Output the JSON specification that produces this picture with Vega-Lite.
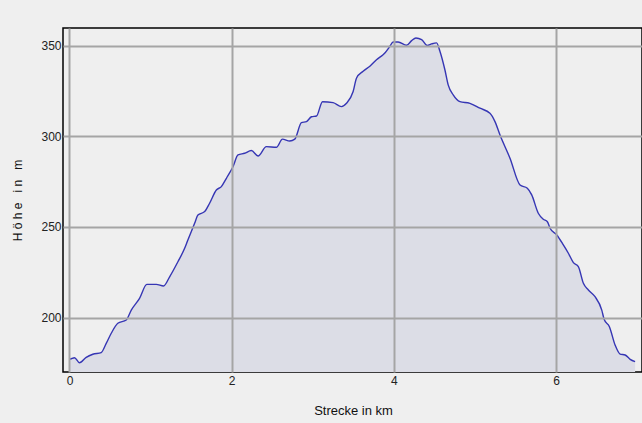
{
  "$schema": "https://vega.github.io/schema/vega-lite/v6.json",
  "autosize": {"type": "none"},
  "width": 579,
  "height": 344,
  "padding": {"left": 63, "top": 28, "right": 0, "bottom": 51},
  "background": "#efefef",
  "config": {
    "view": {"stroke": "#000000", "strokeWidth": 1.5, "fill": "#efefef"},
    "font": "Liberation Sans"
  },
  "data": {"values": [
    {"km": 0.0, "m": 177.0},
    {"km": 0.012, "m": 177.1},
    {"km": 0.062, "m": 177.8},
    {"km": 0.123, "m": 175.0},
    {"km": 0.206, "m": 178.0},
    {"km": 0.288, "m": 179.7},
    {"km": 0.391, "m": 180.6},
    {"km": 0.453, "m": 185.7},
    {"km": 0.515, "m": 191.3},
    {"km": 0.596, "m": 196.8},
    {"km": 0.700, "m": 198.6},
    {"km": 0.762, "m": 204.1},
    {"km": 0.864, "m": 210.6},
    {"km": 0.954, "m": 218.3},
    {"km": 1.070, "m": 218.3},
    {"km": 1.160, "m": 217.4},
    {"km": 1.235, "m": 222.5},
    {"km": 1.337, "m": 230.8},
    {"km": 1.420, "m": 238.2},
    {"km": 1.460, "m": 242.8},
    {"km": 1.543, "m": 252.0},
    {"km": 1.584, "m": 256.6},
    {"km": 1.667, "m": 258.5},
    {"km": 1.728, "m": 263.1},
    {"km": 1.811, "m": 270.4},
    {"km": 1.873, "m": 272.3},
    {"km": 1.935, "m": 276.9},
    {"km": 2.016, "m": 283.3},
    {"km": 2.078, "m": 289.8},
    {"km": 2.160, "m": 290.7},
    {"km": 2.243, "m": 292.2},
    {"km": 2.325, "m": 289.2},
    {"km": 2.428, "m": 294.4},
    {"km": 2.552, "m": 294.0},
    {"km": 2.626, "m": 298.5},
    {"km": 2.716, "m": 297.5},
    {"km": 2.778, "m": 298.5},
    {"km": 2.860, "m": 307.6},
    {"km": 2.922, "m": 308.2},
    {"km": 2.984, "m": 310.9},
    {"km": 3.046, "m": 311.3},
    {"km": 3.120, "m": 319.2},
    {"km": 3.251, "m": 318.7},
    {"km": 3.354, "m": 316.5},
    {"km": 3.416, "m": 318.3},
    {"km": 3.498, "m": 324.8},
    {"km": 3.540, "m": 332.3},
    {"km": 3.621, "m": 336.0},
    {"km": 3.704, "m": 338.8},
    {"km": 3.786, "m": 342.4},
    {"km": 3.889, "m": 346.1},
    {"km": 3.951, "m": 349.8},
    {"km": 3.991, "m": 352.2},
    {"km": 4.053, "m": 352.2},
    {"km": 4.157, "m": 350.4},
    {"km": 4.219, "m": 352.9},
    {"km": 4.272, "m": 354.4},
    {"km": 4.342, "m": 353.5},
    {"km": 4.411, "m": 350.2},
    {"km": 4.465, "m": 351.1},
    {"km": 4.527, "m": 351.7},
    {"km": 4.568, "m": 347.1},
    {"km": 4.630, "m": 336.7},
    {"km": 4.670, "m": 328.5},
    {"km": 4.732, "m": 322.9},
    {"km": 4.815, "m": 319.2},
    {"km": 4.938, "m": 318.3},
    {"km": 5.062, "m": 315.6},
    {"km": 5.185, "m": 312.8},
    {"km": 5.247, "m": 308.2},
    {"km": 5.309, "m": 300.8},
    {"km": 5.432, "m": 288.0},
    {"km": 5.556, "m": 273.2},
    {"km": 5.646, "m": 271.4},
    {"km": 5.700, "m": 267.7},
    {"km": 5.781, "m": 257.6},
    {"km": 5.843, "m": 254.3},
    {"km": 5.893, "m": 252.9},
    {"km": 5.926, "m": 249.3},
    {"km": 6.009, "m": 245.6},
    {"km": 6.090, "m": 240.1},
    {"km": 6.152, "m": 235.5},
    {"km": 6.214, "m": 230.3},
    {"km": 6.275, "m": 228.1},
    {"km": 6.337, "m": 218.9},
    {"km": 6.399, "m": 215.2},
    {"km": 6.481, "m": 211.5},
    {"km": 6.564, "m": 204.1},
    {"km": 6.593, "m": 199.0},
    {"km": 6.658, "m": 194.9},
    {"km": 6.728, "m": 184.8},
    {"km": 6.790, "m": 179.8},
    {"km": 6.852, "m": 179.3},
    {"km": 6.914, "m": 176.9},
    {"km": 6.975, "m": 175.6}
  ]},
  "encoding": {
    "x": {
      "field": "km", "type": "quantitative",
      "scale": {"domain": [-0.08, 7.06], "nice": false, "zero": false},
      "axis": {
        "title": "Strecke in km",
        "values": [0, 2, 4, 6],
        "zindex": 1,
        "grid": true, "gridColor": "#a5a5a5", "gridWidth": 2, "gridOpacity": 1,
        "domain": false, "ticks": false,
        "labelFontSize": 12, "labelColor": "#222222", "labelPadding": 3,
        "titleFontSize": 13, "titleFontWeight": "normal", "titleColor": "#111111",
        "titleX": 290, "titleY": 38, "titleBaseline": "middle", "titleAnchor": null
      }
    },
    "y": {
      "field": "m", "type": "quantitative",
      "scale": {"domain": [169.9, 359.9], "nice": false, "zero": false},
      "axis": {
        "title": "H ö h e \u00a0 i n \u00a0 m",
        "values": [200, 250, 300, 350],
        "zindex": 1,
        "grid": true, "gridColor": "#a5a5a5", "gridWidth": 2, "gridOpacity": 1,
        "domain": false, "ticks": false,
        "labelFontSize": 12, "labelColor": "#222222", "labelPadding": 2,
        "titleFontSize": 12, "titleFontWeight": "normal", "titleColor": "#111111",
        "titleAngle": -90, "titleX": -46, "titleY": 172, "titleAlign": "center", "titleBaseline": "middle"
      }
    }
  },
  "layer": [
    {"mark": {"type": "area", "color": "#dcdde6", "opacity": 1, "interpolate": "monotone", "clip": true}},
    {"mark": {"type": "line", "color": "#3636b4", "strokeWidth": 1.4, "interpolate": "monotone", "clip": true}}
  ]
}
